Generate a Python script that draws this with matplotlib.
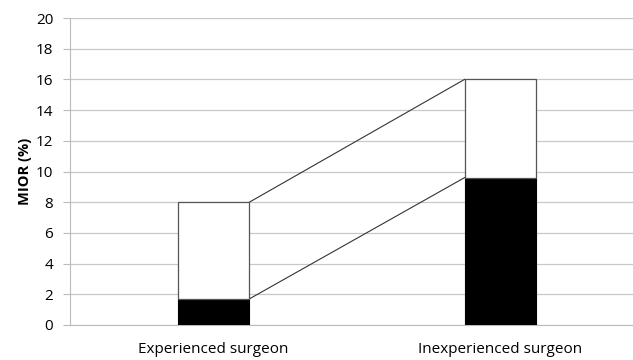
import matplotlib.pyplot as plt

categories = ['Experienced surgeon', 'Inexperienced surgeon']
black_part = [1.7, 9.6]
total = [8.0, 16.0]
yticks = list(range(0, 21, 2))

plt.rcParams['font.family'] = ['Open Sans', 'DejaVu Sans']

fig = plt.figure(figsize=(6.33, 3.6), dpi=100)
ax = fig.add_axes([70 / 633, 35 / 360, 563 / 633, 307 / 360])

x = list(range(len(categories)))
width = 0.25
white_part = [t - b for t, b in zip(total, black_part)]

ax.bar(x, black_part, width, color='black', edgecolor='black', linewidth=0.8, zorder=3)
ax.bar(x, white_part, width, bottom=black_part, color='white',
       edgecolor='#555555', linewidth=0.9, zorder=3)

# series lines joining the stacks
ax.plot([x[0] + width / 2, x[1] - width / 2], [total[0], total[1]],
        color='#333333', linewidth=0.8, zorder=2)
ax.plot([x[0] + width / 2, x[1] - width / 2], [black_part[0], black_part[1]],
        color='#333333', linewidth=0.8, zorder=2)

ax.set_xlim(-0.5, 1.462)
ax.set_ylim(0, 20)
ax.set_yticks(yticks)
ax.set_xticks(x)
ax.set_xticklabels(categories, fontsize=11)
ax.tick_params(axis='x', length=0, pad=12)
ax.tick_params(axis='y', length=5, color='#bbbbbb', labelsize=11, pad=7)
ax.yaxis.grid(True, color='#c8c8c8', linewidth=0.9, zorder=0)
ax.set_axisbelow(True)

for side in ['top', 'right']:
    ax.spines[side].set_visible(False)
ax.spines['left'].set_color('#bbbbbb')
ax.spines['bottom'].set_color('#bbbbbb')

ax.set_ylabel('MIOR (%)', fontsize=10.5, fontweight='bold', labelpad=3)

fig.savefig('out.png', dpi=100)
